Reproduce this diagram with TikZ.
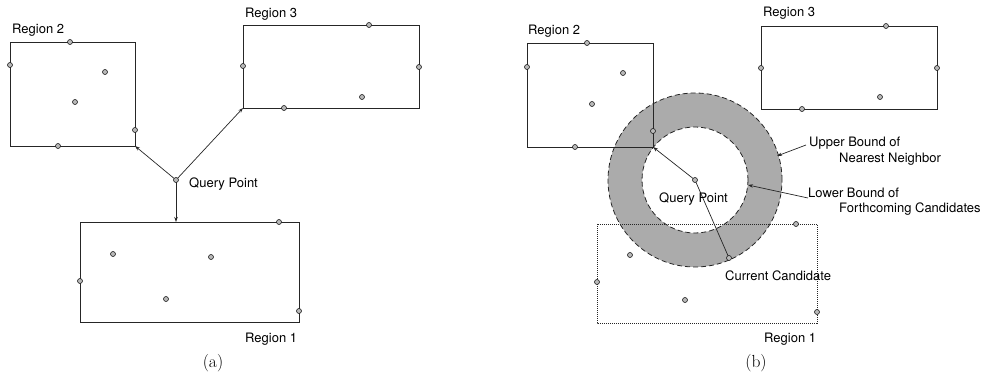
\documentclass[tikz,border=0pt]{standalone}
\usepackage{fontspec}
\newfontfamily\labfont{TeX Gyre Heros}
\usetikzlibrary{arrows.meta}
\tikzset{
  pt/.style={circle, draw=black!90, fill=gray!55, inner sep=0pt, minimum size=5pt, line width=0.6pt},
  regbox/.style={draw=black!85, line width=0.8pt},
  dotbox/.style={draw=black!85, line width=0.8pt, dash pattern=on 1pt off 1pt},
  lab/.style={font=\labfont\fontsize{13}{15}\selectfont, inner sep=0pt, anchor=base west},
  capstyle/.style={font=\fontsize{17.5}{20}\selectfont, inner sep=0pt, anchor=base},
  arr/.style={draw=black!85, line width=0.7pt, -{Stealth[length=5pt,width=3.5pt]}},
  plainline/.style={draw=black!85, line width=0.7pt},
  bound/.style={draw=black!85, line width=0.8pt, dash pattern=on 5pt off 3pt},
  ringfill/.style={fill=black!33}
}
\begin{document}
\begin{tikzpicture}[x=1pt,y=-1pt]
\useasboundingbox (0,0) rectangle (993,382);

% ================= (a) =================
\draw[regbox] (10,42) rectangle (135,146);
\draw[regbox] (243,25) rectangle (419,108);
\draw[regbox] (80,222) rectangle (299,322);
\coordinate (qa) at (176,180);
\coordinate (a2c) at (135,146);
\coordinate (a3c) at (243,108);
\coordinate (a1t) at (176,222);
\draw[arr] (qa) -- (a2c);
\draw[arr] (qa) -- (a3c);
\draw[arr] (qa) -- (a1t);

\node[pt] (qpa) at (qa) {};
% region 2 points
\node[pt] (a21) at (70,42) {};
\node[pt] (a22) at (10,65) {};
\node[pt] (a23) at (105,72) {};
\node[pt] (a24) at (75,102) {};
\node[pt] (a25) at (135,130) {};
\node[pt] (a26) at (58,146) {};
% region 3 points
\node[pt] (a31) at (369,25) {};
\node[pt] (a32) at (243,66) {};
\node[pt] (a33) at (419,67) {};
\node[pt] (a34) at (362,97) {};
\node[pt] (a35) at (284,108) {};
% region 1 points
\node[pt] (a11) at (279,222) {};
\node[pt] (a12) at (113,254) {};
\node[pt] (a13) at (211,257) {};
\node[pt] (a14) at (80,281) {};
\node[pt] (a15) at (166,299) {};
\node[pt] (a16) at (299,311) {};

\node[lab] (la2) at (12,34) {Region 2};
\node[lab] (la3) at (245,18) {Region 3};
\node[lab] (laq) at (189,188) {Query Point};
\node[lab] (la1) at (245,342) {Region 1};
\node[capstyle] (capa) at (213,367) {(a)};

% ================= (b) =================
\coordinate (qb) at (695,180);
\fill[ringfill, even odd rule] (qb) circle[radius=87pt] (qb) circle[radius=53pt];

\draw[regbox] (527,43) rectangle (653,147);
\draw[regbox] (761,26) rectangle (937,109);
\draw[dotbox] (597,224) rectangle (817,323);

\draw[bound] (qb) circle[radius=87pt];
\draw[bound] (qb) circle[radius=53pt];

\coordinate (b2c) at (653,147);
\coordinate (cand) at (729,258);
\draw[arr] (qb) -- (b2c);
\draw[plainline] (qb) -- (cand);

% leaders
\coordinate (ubs) at (806,145);
\coordinate (ube) at (777,156);
\coordinate (lbs) at (808,198);
\coordinate (lbe) at (748,185);
\draw[arr] (ubs) -- (ube);
\draw[arr] (lbs) -- (lbe);

\node[pt] (qpb) at (qb) {};
\node[pt] (b21) at (587,43) {};
\node[pt] (b22) at (527,67) {};
\node[pt] (b23) at (623,73) {};
\node[pt] (b24) at (592,104) {};
\node[pt] (b25) at (653,131) {};
\node[pt] (b26) at (575,147) {};
\node[pt] (b31) at (886,26) {};
\node[pt] (b32) at (761,68) {};
\node[pt] (b33) at (937,68) {};
\node[pt] (b34) at (880,97) {};
\node[pt] (b35) at (802,109) {};
\node[pt] (b11) at (796,224) {};
\node[pt] (b12) at (630,255) {};
\node[pt] (b13) at (cand) {};
\node[pt] (b14) at (597,282) {};
\node[pt] (b15) at (685,300) {};
\node[pt] (b16) at (817,312) {};

\node[lab] (lb2) at (528,35) {Region 2};
\node[lab] (lb3) at (763,17) {Region 3};
\node[lab] (lbq) at (659,203) {Query Point};
\node[lab] (lbc) at (725,280) {Current Candidate};
\node[lab] (lb1) at (764,342) {Region 1};
\node[lab] (lub1) at (809,147) {Upper Bound of};
\node[lab] (lub2) at (839,163) {Nearest Neighbor};
\node[lab] (llb1) at (808,197) {Lower Bound of};
\node[lab] (llb2) at (839,213) {Forthcoming Candidates};
\node[capstyle] (capb) at (756,367) {(b)};
\end{tikzpicture}
\end{document}
